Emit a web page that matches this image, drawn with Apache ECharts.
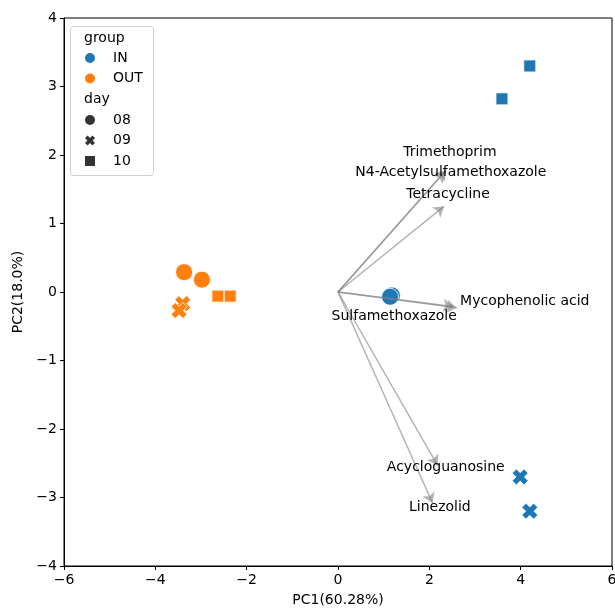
<!DOCTYPE html>
<html><head><meta charset="utf-8">
<script src="https://cdn.jsdelivr.net/npm/echarts@6/dist/echarts.min.js"></script>
<style>html,body{margin:0;padding:0;background:#fff}#c{width:615px;height:608px}</style>
</head><body><div id="c"></div>
<script>
// ---- data ----
const groups = ['IN', 'OUT'];
const days = ['08', '09', '10'];
const groupColors = ['#1f77b4', '#ff7f0e'];
// scores [PC1, PC2]
const IN_08 = [[1.18, -0.05], [1.14, -0.07]];
const IN_09 = [[3.99, -2.70], [4.20, -3.20]];
const IN_10 = [[4.20, 3.30], [3.59, 2.82]];
const OUT_08 = [[-3.37, 0.29], [-2.98, 0.18]];
const OUT_09 = [[-3.40, -0.17], [-3.48, -0.27]];
const OUT_10 = [[-2.63, -0.06], [-2.36, -0.06]];
// loadings (arrow tips)
const loadingNames = ['Trimethoprim', 'N4-Acetylsulfamethoxazole', 'Tetracycline', 'Mycophenolic acid', 'Sulfamethoxazole', 'Acycloguanosine', 'Linezolid'];
const loadingTips = [[2.37, 1.78], [2.33, 1.75], [2.32, 1.25], [2.60, -0.23], [2.52, -0.21], [2.18, -2.53], [2.07, -3.08]];
const labelPos = [[2.45, 2.04], [2.47, 1.75], [2.41, 1.42], [4.09, -0.13], [1.23, -0.36], [2.36, -2.56], [2.23, -3.15]];
const xTicks = [-6, -4, -2, 0, 2, 4, 6];
const yTicks = [-4, -3, -2, -1, 0, 1, 2, 3, 4];

// ---- chart ----
const FONT = 'DejaVu Sans';
const XPATH = 'path://M0,2.6 L2.6,0 L5,2.4 L7.4,0 L10,2.6 L7.6,5 L10,7.4 L7.4,10 L5,7.6 L2.6,10 L0,7.4 L2.4,5 Z';
const SQPATH = 'path://M0,0 L10,0 L10,10 L0,10 Z';
const dayShapes = { '08': 'circle', '09': XPATH, '10': 'rect' };
const legendShapes = { '08': 'circle', '09': XPATH, '10': SQPATH };
const daySizes = { '08': 17, '09': 16, '10': 12 };
const scoreData = { IN: { '08': IN_08, '09': IN_09, '10': IN_10 }, OUT: { '08': OUT_08, '09': OUT_09, '10': OUT_10 } };

const minus = v => String(v).replace('-', '\u2212');

const series = [];
// arrows
series.push({
  type: 'lines', coordinateSystem: 'cartesian2d', z: 3,
  symbol: ['none', 'arrow'], symbolSize: [7, 10],
  lineStyle: { color: 'rgba(128,128,128,0.6)', width: 1.5, curveness: 0, opacity: 1 },
  data: loadingTips.map(t => ({ coords: [[0, 0], t] })),
  silent: true
});
// scores
groups.forEach((g, gi) => {
  days.forEach(d => {
    series.push({
      type: 'scatter', name: g + ' ' + d, z: 2,
      symbol: dayShapes[d], symbolSize: daySizes[d],
      itemStyle: { color: groupColors[gi], borderColor: '#fff', borderWidth: 0.8, opacity: 1 },
      data: scoreData[g][d], silent: true
    });
  });
});
// loading labels
series.push({
  type: 'scatter', z: 5, symbolSize: 0, silent: true,
  itemStyle: { opacity: 1 },
  data: labelPos.map((p, i) => ({ value: p, name: loadingNames[i] })),
  label: { show: true, position: 'inside', formatter: p => p.name, color: '#000', opacity: 1, fontFamily: FONT, fontSize: 14 }
});
// legend dummy series
groups.forEach((g, gi) => series.push({ type: 'scatter', name: g, data: [], itemStyle: { color: groupColors[gi], opacity: 1 } }));
days.forEach(d => series.push({ type: 'scatter', name: d, data: [], symbol: legendShapes[d], itemStyle: { color: '#333333', opacity: 1 } }));

const legendCommon = {
  orient: 'vertical', left: 85, itemWidth: 20, itemHeight: 10, itemGap: 6.5, padding: 0, z: 20,
  selectedMode: false, symbolKeepAspect: true,
  textStyle: { fontFamily: FONT, fontSize: 14, color: '#000', lineHeight: 14, padding: [0, 0, 0, 8] }
};

const option = {
  animation: false,
  backgroundColor: '#fff',
  grid: { left: 64, right: 3, top: 18, bottom: 42, outerBoundsMode: 'none', containLabel: false, show: true, borderColor: '#000', borderWidth: 1, backgroundColor: 'transparent' },
  xAxis: {
    type: 'value', min: -6, max: 6, interval: 2,
    name: 'PC1(60.28%)', nameLocation: 'middle', nameGap: 27,
    nameTextStyle: { fontFamily: FONT, fontSize: 14, color: '#000' },
    axisLine: { onZero: false, lineStyle: { color: '#000', width: 1 } },
    axisTick: { show: true, length: 4, lineStyle: { color: '#000' } },
    axisLabel: { margin: 7, fontFamily: FONT, fontSize: 14, color: '#000', formatter: minus, customValues: xTicks },
    splitLine: { show: false }
  },
  yAxis: {
    type: 'value', min: -4, max: 4, interval: 1,
    name: 'PC2(18.0%)', nameLocation: 'middle', nameGap: 37,
    nameTextStyle: { fontFamily: FONT, fontSize: 14, color: '#000' },
    axisLine: { onZero: false, lineStyle: { color: '#000', width: 1 } },
    axisTick: { show: true, length: 4, lineStyle: { color: '#000' } },
    axisLabel: { margin: 7, fontFamily: FONT, fontSize: 14, color: '#000', formatter: minus, customValues: yTicks },
    splitLine: { show: false }
  },
  legend: [
    Object.assign({}, legendCommon, { top: 51, data: groups.map(g => ({ name: g, icon: 'circle' })) }),
    Object.assign({}, legendCommon, { top: 113, data: days.map(d => ({ name: d, icon: legendShapes[d] })) })
  ],
  graphic: [
    { type: 'rect', z: 1, shape: { x: 70.5, y: 26.5, width: 83, height: 149, r: 3 }, style: { fill: 'rgba(255,255,255,0.8)', stroke: '#d0d0d0', lineWidth: 1 } },
    { type: 'text', z: 11, left: 84, top: 31, style: { text: 'group', fontFamily: FONT, fontSize: 14, fill: '#000' } },
    { type: 'text', z: 11, left: 84, top: 92, style: { text: 'day', fontFamily: FONT, fontSize: 14, fill: '#000' } }
  ],
  series: series
};
const chart = echarts.init(document.getElementById('c'), null, { renderer: 'canvas' });
chart.setOption(option);
</script></body></html>
